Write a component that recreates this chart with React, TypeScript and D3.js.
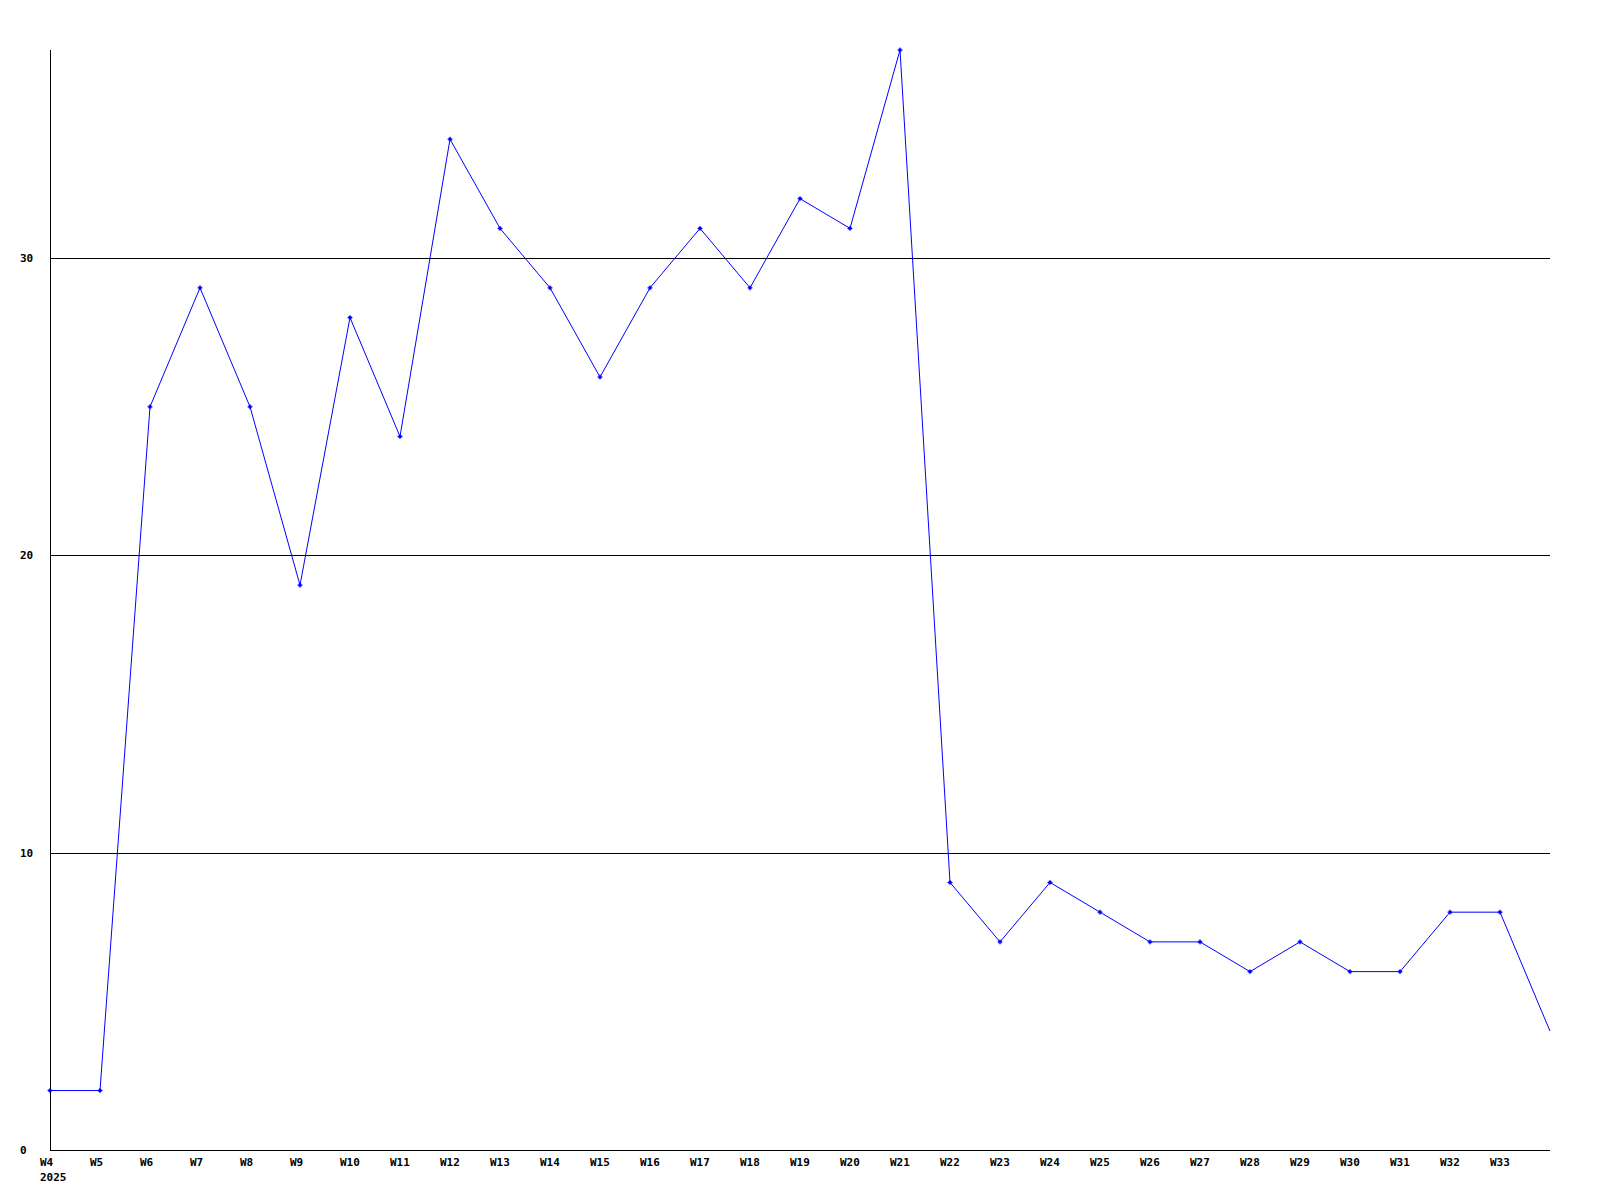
import React from "react";
import * as d3 from "d3";

const weeks = ["W4","W5","W6","W7","W8","W9","W10","W11","W12","W13","W14","W15","W16","W17","W18","W19","W20","W21","W22","W23","W24","W25","W26","W27","W28","W29","W30","W31","W32","W33","W34"];
const values = [2,2,25,29,25,19,28,24,34,31,29,26,29,31,29,32,31,37,9,7,9,8,7,7,6,7,6,6,8,8,4];
const labeledWeeks = weeks.slice(0, 30);
const yTicks = [0, 10, 20, 30];
const yearLabel = "2025";

export default function App() {
  const W = 1600, H = 1200;
  const left = 50, right = 1550, top = 50, bottom = 1150;
  const x = d3.scalePoint<string>().domain(weeks).range([left, right]);
  const y = d3.scaleLinear().domain([0, 37]).range([bottom, top]);
  const line = d3.line<number>().x((_, i) => x(weeks[i])!).y((d) => y(d));
  const font = { fontFamily: "'DejaVu Sans Mono', monospace", fontWeight: "bold" as const, fontSize: 11 };
  return (
    <svg width={W} height={H} style={{ position: "absolute", left: 0, top: 0, background: "#fff" }}>
      <rect x={0} y={0} width={W} height={H} fill="#fff" />
      {yTicks.filter((t) => t > 0).map((t) => (
        <line key={t} x1={left} x2={right} y1={Math.round(y(t)) + 0.5} y2={Math.round(y(t)) + 0.5} stroke="#000" strokeWidth={1} shapeRendering="crispEdges" />
      ))}
      <line x1={left + 0.5} x2={left + 0.5} y1={top} y2={bottom + 1} stroke="#000" shapeRendering="crispEdges" />
      <line x1={left} x2={right} y1={bottom + 0.5} y2={bottom + 0.5} stroke="#000" shapeRendering="crispEdges" />
      {yTicks.map((t) => (
        <text key={t} x={20} y={y(t)} dy="0.35em" {...font} fill="#000">{t}</text>
      ))}
      {labeledWeeks.map((w) => (
        <text key={w} x={x(w)! - 10} y={1166} {...font} fill="#000">{w}</text>
      ))}
      <text x={40} y={1181} {...font} fill="#000">{yearLabel}</text>
      <path d={line(values) || ""} fill="none" stroke="#0000ff" strokeWidth={1} />
      {values.slice(0, values.length - 1).map((v, i) => (
        <g key={i} fill="#0000ff">
          <rect x={x(weeks[i])! - 1.5} y={y(v) - 1.5} width={3} height={3} />
          <rect x={x(weeks[i])! - 0.5} y={y(v) - 2.5} width={1} height={5} />
          <rect x={x(weeks[i])! - 2.5} y={y(v) - 0.5} width={5} height={1} />
        </g>
      ))}
    </svg>
  );
}
